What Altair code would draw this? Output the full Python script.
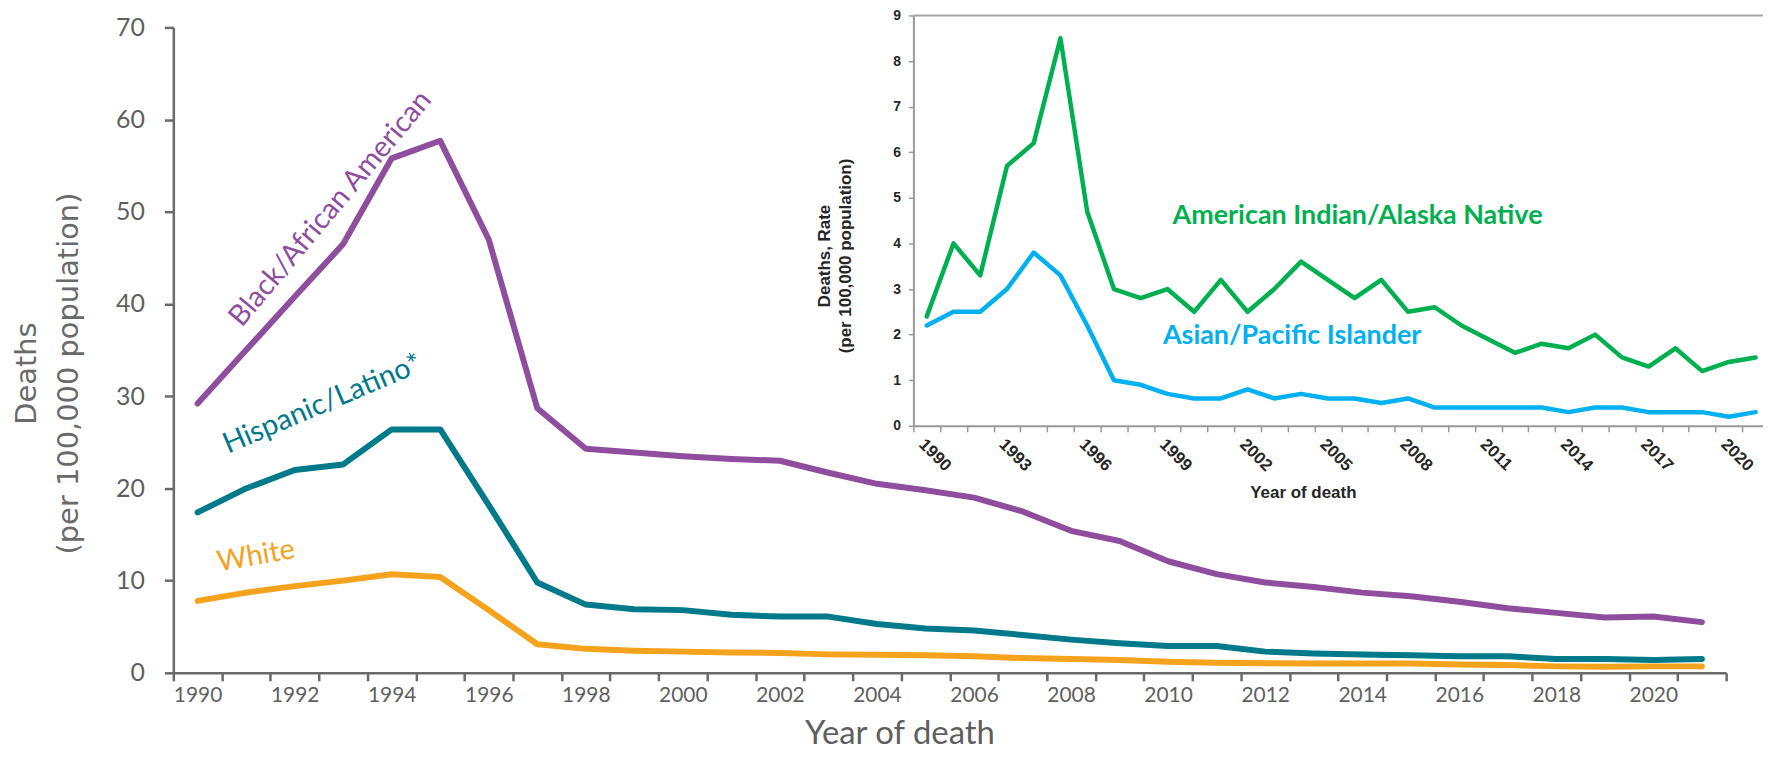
import altair as alt
import pandas as pd

# ---------------- data ----------------
years = list(range(1990, 2022))

black = [29.2, 35.0, 40.8, 46.5, 55.8, 57.7, 47.0, 28.7, 24.3, 23.9, 23.5, 23.2, 23.0, 21.7, 20.5, 19.8,
         19.0, 17.5, 15.4, 14.3, 12.1, 10.7, 9.8, 9.3, 8.7, 8.3, 7.7, 7.0, 6.5, 6.0, 6.1, 5.5]
hispanic = [17.4, 20.0, 22.0, 22.6, 26.4, 26.4, 18.2, 9.8, 7.4, 6.9, 6.8, 6.3, 6.1, 6.1, 5.3, 4.8,
            4.6, 4.1, 3.6, 3.2, 2.9, 2.9, 2.3, 2.1, 2.0, 1.9, 1.8, 1.8, 1.5, 1.5, 1.4, 1.5]
white = [7.8, 8.7, 9.4, 10.0, 10.7, 10.4, 6.8, 3.1, 2.6, 2.4, 2.3, 2.2, 2.15, 2.0, 1.95, 1.9,
         1.8, 1.6, 1.5, 1.4, 1.2, 1.1, 1.05, 1.0, 1.0, 1.0, 0.9, 0.85, 0.7, 0.65, 0.7, 0.7]

aian = [2.4, 4.0, 3.3, 5.7, 6.2, 8.5, 4.7, 3.0, 2.8, 3.0, 2.5, 3.2, 2.5, 3.0, 3.6, 3.2,
        2.8, 3.2, 2.5, 2.6, 2.2, 1.9, 1.6, 1.8, 1.7, 2.0, 1.5, 1.3, 1.7, 1.2, 1.4, 1.5]
api = [2.2, 2.5, 2.5, 3.0, 3.8, 3.3, 2.2, 1.0, 0.9, 0.7, 0.6, 0.6, 0.8, 0.6, 0.7, 0.6,
       0.6, 0.5, 0.6, 0.4, 0.4, 0.4, 0.4, 0.4, 0.3, 0.4, 0.4, 0.3, 0.3, 0.3, 0.2, 0.3]

main_groups = ["Black/African American", "Hispanic/Latino*", "White"]
inset_groups = ["American Indian/Alaska Native", "Asian/Pacific Islander"]

main_ticks = [0, 10, 20, 30, 40, 50, 60, 70]
inset_ticks = [0, 1, 2, 3, 4, 5, 6, 7, 8, 9]

# label anchors (data units)
main_label_years = [1993, 1992, 1991]
main_label_rates = [52.0, 27.9, 12.5]
inset_label_years = [2006, 2004]
inset_label_rates = [4.6, 1.98]

# ---------------- styling ----------------
C_MAIN = ["#8F4E9D", "#00798A", "#F5A21D"]
C_INSET = ["#00B050", "#00B0F0"]
GRAY = "#5f5f5f"

W, H = 1559, 648
INSET_X0, INSET_X1 = 743, 1602
INSET_Y0, INSET_Y9 = 400, -12

main_df = pd.DataFrame({
    "year": years * 3,
    "rate": black + hispanic + white,
    "group": [g for g in main_groups for _ in years],
})
inset_df = pd.DataFrame({
    "year": years * 2,
    "rate": aian + api,
    "group": [g for g in inset_groups for _ in years],
})


def x_main(field="year", band=0.5):
    return alt.X(
        f"{field}:O",
        bandPosition=band,
        scale=alt.Scale(type="band", domain=years, paddingInner=0, paddingOuter=0),
        axis=alt.Axis(
            title="Year of death", tickBand="extent", labelAngle=0,
            labelExpr="datum.value % 2 == 0 ? datum.label : ''", labelOverlap=False,
            labelFont="Lato", labelFontSize=21, labelColor=GRAY, labelPadding=4,
            tickSize=8, tickWidth=2.5, tickColor="#6a6a6a",
            domainColor="#6a6a6a", domainWidth=2.5, grid=False,
            titleFont="Lato", titleFontSize=33, titleFontWeight="normal", titleColor=GRAY,
            titleX=729, titleY=71, titleBaseline="alphabetic", titleAlign="center",
        ),
    )


def y_main(field="rate"):
    return alt.Y(
        f"{field}:Q",
        scale=alt.Scale(domain=[0, 70], nice=False),
        axis=alt.Axis(
            values=main_ticks, grid=False,
            title=["Deaths", "(per 100,000 population)"],
            titleFont="DejaVu Sans", titleFontSize=29, titleFontWeight="normal",
            titleColor="#6a6a6a", titleLineHeight=42, titleAngle=270,
            titleX=-147, titleY=347, titleAlign="center", titleBaseline="middle",
            labelFont="Lato", labelFontSize=25, labelColor=GRAY, labelPadding=20,
            tickSize=9, tickWidth=2.5, tickColor="#6a6a6a",
            domainColor="#6a6a6a", domainWidth=2.5,
        ),
    )


def x_inset(field="year", band=0.5):
    return alt.X(
        f"{field}:O",
        bandPosition=band,
        scale=alt.Scale(type="band", domain=years, range=[INSET_X0, INSET_X1],
                        paddingInner=0, paddingOuter=0),
        axis=alt.Axis(
            orient="bottom", offset=INSET_Y0 - H,
            title="Year of death", tickBand="extent", labelAngle=45,
            labelExpr="(datum.value - 1990) % 3 == 0 ? datum.label : ''", labelOverlap=False,
            labelFont="Liberation Sans", labelFontWeight="bold", labelFontSize=17,
            labelColor="#262626", labelPadding=4,
            tickSize=6, tickWidth=1.5, tickColor="#999999",
            domainColor="#999999", domainWidth=2, grid=False,
            titleFont="Liberation Sans", titleFontSize=17, titleFontWeight="bold",
            titleColor="#262626", titleX=1134, titleY=67, titleBaseline="middle",
            titleAlign="center",
        ),
    )


def y_inset(field="rate"):
    return alt.Y(
        f"{field}:Q",
        scale=alt.Scale(domain=[0, 9], range=[INSET_Y0, INSET_Y9], nice=False),
        axis=alt.Axis(
            orient="left", offset=-INSET_X0, values=inset_ticks, grid=False,
            title=["Deaths, Rate", "(per 100,000 population)"],
            titleFont="Liberation Sans", titleFontSize=17, titleFontWeight="bold",
            titleColor="#262626", titleLineHeight=21, titleAngle=270,
            titleX=-89, titleY=229, titleAlign="center", titleBaseline="middle",
            labelFont="Liberation Sans", labelFontWeight="bold", labelFontSize=14,
            labelColor="#262626", labelPadding=8,
            tickSize=5, tickWidth=1.5, tickColor="#999999",
            domainColor="#999999", domainWidth=2,
        ),
    )


# ---------------- main chart ----------------
main_lines = alt.Chart(main_df).mark_line(
    strokeWidth=6, strokeJoin="round", strokeCap="round"
).encode(
    x=x_main(), y=y_main(),
    color=alt.Color("group:N", scale=alt.Scale(domain=main_groups, range=C_MAIN), legend=None),
)

main_label_specs = [(310, -20), (337, 30), (350, 10)]
main_texts = []
for i, g in enumerate(main_groups):
    ang, dx = main_label_specs[i]
    df = pd.DataFrame({"year": [main_label_years[i]], "rate": [main_label_rates[i]], "label": [g]})
    main_texts.append(
        alt.Chart(df).mark_text(
            font="Lato", fontSize=29, angle=ang, dx=dx, align="center", baseline="middle",
            color=C_MAIN[i],
        ).encode(x=x_main(), y=y_main(), text="label:N")
    )

main_layer = alt.layer(main_lines, *main_texts)

# ---------------- inset chart ----------------
inset_lines = alt.Chart(inset_df).mark_line(
    strokeWidth=4.5, strokeJoin="round", strokeCap="round"
).encode(
    x=x_inset(), y=y_inset(),
    color=alt.Color("group:N", scale=alt.Scale(domain=inset_groups, range=C_INSET), legend=None),
)

inset_dx = [3, -9]
inset_texts = []
for i, g in enumerate(inset_groups):
    df = pd.DataFrame({"year": [inset_label_years[i]], "rate": [inset_label_rates[i]], "label": [g]})
    inset_texts.append(
        alt.Chart(df).mark_text(
            font="Lato", fontWeight="bold", fontSize=27, dx=inset_dx[i],
            align="center", baseline="middle", color=C_INSET[i],
        ).encode(x=x_inset(), y=y_inset(), text="label:N")
    )

border_df = pd.DataFrame({"start": [years[0]], "end": [years[-1]], "top": [inset_ticks[-1]]})
border = alt.Chart(border_df).mark_rule(color="#a6a6a6", strokeWidth=2).encode(
    x=x_inset("start", band=0),
    x2=alt.X2("end", bandPosition=1),
    y=y_inset("top"),
)

inset_layer = alt.layer(inset_lines, *inset_texts, border)

chart = alt.layer(main_layer, inset_layer).resolve_scale(
    x="independent", y="independent", color="independent"
).properties(
    width=W, height=H,
    padding={"left": 166, "top": 18, "right": 37, "bottom": 76},
    autosize=alt.AutoSizeParams(type="none"),
    background="white",
).configure_view(stroke=None)

chart.save("out.html", embed_options={"renderer": "svg", "actions": False})
